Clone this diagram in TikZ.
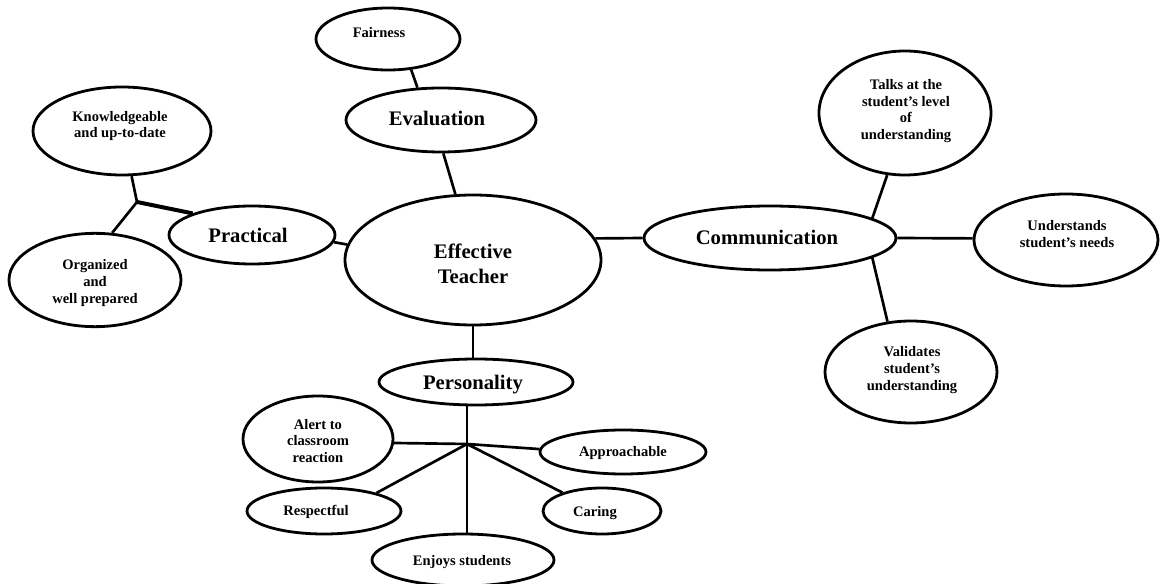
\documentclass[tikz,border=0pt]{standalone}
\usepackage{fontspec}
\setmainfont{Liberation Serif}
\usetikzlibrary{shapes.geometric}
\tikzset{
  oval/.style={draw, ellipse, line width=2.1pt, inner sep=0pt},
  big/.style={font=\fontsize{15.5}{18.75}\selectfont\bfseries, align=center},
  small/.style={font=\fontsize{10.9}{12.6}\selectfont\bfseries, align=center},
  link/.style={line width=2pt},
  thicklink/.style={line width=3pt},
}
\begin{document}
\begin{tikzpicture}[x=0.75pt, y=-0.75pt]
\fill[white] (0,0) rectangle (1161,584);
\useasboundingbox (0,0) rectangle (1161,584);

% nodes
\node[oval, minimum width=108pt, minimum height=46.5pt,
  label={[small, shift={(-9,-6)}]center:Fairness}] (fair) at (388,39) {};
\node[oval, minimum width=142.5pt, minimum height=48pt,
  label={[big, shift={(-4,-2)}]center:Evaluation}] (eval) at (441,120) {};
\node[oval, minimum width=192pt, minimum height=97.5pt,
  label={[big, shift={(0,4)}]center:Effective\\Teacher}] (eff) at (473,260) {};
\node[oval, minimum width=124.5pt, minimum height=43.5pt,
  label={[big, shift={(-4,0)}]center:Practical}] (prac) at (252,235) {};
\node[oval, minimum width=133.5pt, minimum height=66pt,
  label={[small, shift={(-2,-5)}]center:Knowledgeable\\and up-to-date}] (know) at (122,131) {};
\node[oval, minimum width=129pt, minimum height=70pt,
  label={[small, shift={(0,3)}]center:Organized\\and\\well prepared}] (org) at (95,280) {};
\node[oval, minimum width=189pt, minimum height=48pt,
  label={[big, shift={(-3,-1)}]center:Communication}] (comm) at (770,238) {};
\node[oval, minimum width=129pt, minimum height=93pt,
  label={[small, shift={(1,-2)}]center:Talks at the\\student's level\\of\\understanding}] (talks) at (905,113) {};
\node[oval, minimum width=138pt, minimum height=69pt,
  label={[small, shift={(1,-6)}]center:Understands\\student's needs}] (und) at (1066,240) {};
\node[oval, minimum width=129pt, minimum height=76.5pt,
  label={[small, shift={(1,-2)}]center:Validates\\student's\\understanding}] (val) at (911,372) {};
\node[oval, minimum width=145.5pt, minimum height=34.5pt,
  label={[big, shift={(-3,3)}]center:Personality}] (pers) at (476,382) {};
\node[oval, minimum width=112.5pt, minimum height=64.5pt,
  label={[small, shift={(0,2)}]center:Alert to\\classroom\\reaction}] (alert) at (318,439) {};
\node[oval, minimum width=124.5pt, minimum height=33pt,
  label={[small, shift={(0,1)}]center:Approachable}] (appr) at (623,452) {};
\node[oval, minimum width=115.5pt, minimum height=34.5pt,
  label={[small, shift={(-8,1)}]center:Respectful}] (resp) at (324,511) {};
\node[oval, minimum width=88.5pt, minimum height=34.5pt,
  label={[small, shift={(-7,2)}]center:Caring}] (car) at (602,511) {};
\node[oval, minimum width=136.5pt, minimum height=39pt,
  label={[small, shift={(-1,2)}]center:Enjoys students}] (enj) at (463,560) {};

% junctions
\coordinate (j1) at (137,202);
\coordinate (j2) at (467,444);

% connectors
\draw[link] (fair.-53) -- (eval.126);
\draw[link] (eval.-86.5) -- (eff.105);
\draw[link] (eff.173.7) -- (prac.-5.6);
\draw[link] (know.-78) -- (j1);
\draw[link] (org.70) -- (j1);
\draw[thicklink] (prac.160) -- (j1);
\draw[link] (eff.10.3) -- (comm.west);
\draw[link] (comm.east) -- (und.179);
\draw[link] (talks.-106) -- (comm.11.7);
\draw[link] (comm.-11) -- (val.115);
\draw[link] (eff.south) -- (eff.south |- pers.north);
\draw[link] (j2 |- pers.south) -- (j2 |- enj.north);
\draw[link] (alert.-3) -- (j2);
\draw[link] (j2) -- (appr.178.6);
\draw[link] (j2) -- (resp.19.4);
\draw[link] (j2) -- (car.155);
\end{tikzpicture}
\end{document}
